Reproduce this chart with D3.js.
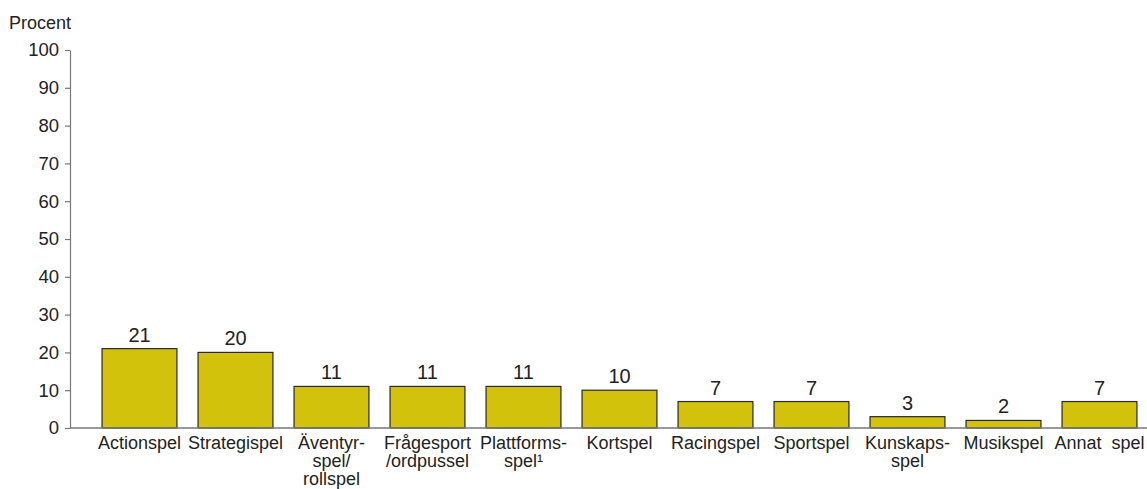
<!DOCTYPE html>
<html>
<head>
<meta charset="utf-8">
<script src="https://cdn.jsdelivr.net/npm/d3@7"></script>
<style>
html,body{margin:0;padding:0;background:#fff;}
svg{display:block;font-family:"Liberation Sans",Arial,Helvetica,sans-serif;}
</style>
</head>
<body>
<svg id="chart" width="1147" height="489"></svg>
<script>
const categories = ["Actionspel","Strategispel","Äventyrspel/rollspel","Frågesport/ordpussel","Plattformsspel","Kortspel","Racingspel","Sportspel","Kunskapsspel","Musikspel","Annat spel"];
const categoryLines = [["Actionspel"],["Strategispel"],["Äventyr-","spel/","rollspel"],["Frågesport","/ordpussel"],["Plattforms-","spel¹"],["Kortspel"],["Racingspel"],["Sportspel"],["Kunskaps-","spel"],["Musikspel"],["Annat  spel"]];
const values = [21,20,11,11,11,10,7,7,3,2,7];
const yTicks = [0,10,20,30,40,50,60,70,80,90,100];
const yLabel = "Procent";

const svg = d3.select("#chart");
const axisX = 70, y0 = 428, y100 = 50;
const x = d3.scaleBand().domain(categories).range([91.5, 1147.5]).paddingInner(0.22).paddingOuter(0.11);
const y = d3.scaleLinear().domain([0,100]).range([y0, y100]);

// y axis
const yAxis = svg.append("g").attr("transform", `translate(${axisX},0)`)
  .call(d3.axisLeft(y).tickValues(yTicks).tickSize(5).tickPadding(6).tickSizeOuter(0));
yAxis.select(".domain").attr("stroke","#777").attr("stroke-width",1.2);
yAxis.selectAll(".tick line").attr("stroke","#777").attr("stroke-width",1.2);
yAxis.selectAll(".tick text").attr("fill","#222").style("font-size","18.5px").style("font-family","'Liberation Sans',Arial,sans-serif");

svg.append("text").attr("x", 9).attr("y", 29).attr("fill","#222")
  .style("font-size","18px").text(yLabel);

// bars
svg.selectAll("rect.bar").data(values).join("rect")
  .attr("class","bar")
  .attr("x",(d,i)=>x(categories[i]))
  .attr("width", x.bandwidth())
  .attr("y", d=>y(d))
  .attr("height", d=>y(0)-y(d))
  .attr("fill","#d3c20c")
  .attr("stroke","#2a2a2a")
  .attr("stroke-width",1.2);

// baseline
svg.append("line").attr("x1",axisX).attr("x2",1147).attr("y1",y(0)).attr("y2",y(0))
  .attr("stroke","#777").attr("stroke-width",1.5);

// value labels
svg.selectAll("text.val").data(values).join("text")
  .attr("class","val")
  .attr("x",(d,i)=>x(categories[i])+x.bandwidth()/2)
  .attr("y", d=>y(d)-7)
  .attr("text-anchor","middle")
  .attr("fill","#222")
  .style("font-size","20px")
  .text(d=>d);

// category labels
const cl = svg.selectAll("text.cat").data(categoryLines).join("text")
  .attr("class","cat")
  .attr("text-anchor","middle")
  .attr("fill","#222")
  .style("font-size","18px")
  .style("white-space","pre")
  .attr("transform",(d,i)=>`translate(${x(categories[i])+x.bandwidth()/2},449)`);
cl.each(function(lines){
  const t = d3.select(this);
  lines.forEach((ln,j)=>{
    t.append("tspan").attr("x",0).attr("y",j*18).text(ln);
  });
});
</script>
</body>
</html>
